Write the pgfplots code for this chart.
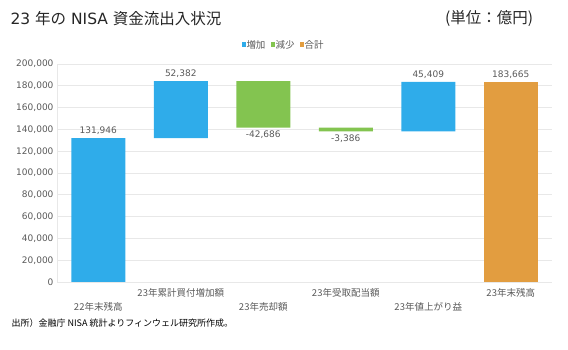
\documentclass[border=0pt]{standalone}
\usepackage{fontspec}
\setmainfont{DejaVu Sans}
\newfontfamily\jp{Noto Sans CJK JP}
\usepackage{pgfplots}
\pgfplotsset{compat=1.18}
\definecolor{bblue}{RGB}{47,172,234}
\definecolor{bgreen}{RGB}{131,196,80}
\definecolor{borange}{RGB}{226,157,64}
\definecolor{tgray}{RGB}{89,89,89}
\definecolor{ggray}{RGB}{232,232,232}
\begin{document}
\begin{tikzpicture}[x=1pt,y=1pt]
\useasboundingbox (0,0) rectangle (568,350);
\begin{axis}[
  at={(57pt,68pt)}, anchor=south west, scale only axis,
  width=495pt, height=218pt,
  ybar stacked, bar width=54pt,
  xmin=-0.5, xmax=5.5, ymin=0, ymax=200000,
  ytick={0,20000,...,200000},
  scaled y ticks=false,
  yticklabel style={/pgf/number format/fixed, /pgf/number format/1000 sep={,}, font=\fontsize{9}{10}\selectfont, text=tgray},
  /pgf/number format/assume math mode=true,
  ymajorgrids, grid style={ggray, line width=0.8pt},
  axis line style={ggray, line width=0.8pt},
  axis x line*=bottom, axis y line*=left,
  major tick length=0pt,
  xtick={1,3,5},
  xticklabels={{\jp 23年累計買付増加額},{\jp 23年受取配当額},{\jp 23年末残高}},
  xticklabel style={font=\fontsize{9.5}{10}\selectfont, text=tgray, yshift=-3pt},
  extra x ticks={0,2,4},
  extra x tick labels={{\jp 22年末残高},{\jp 23年売却額},{\jp 23年値上がり益}},
  extra x tick style={tick label style={yshift=-14pt}},
  legend columns=-1,
  legend style={at={(0.5,1)}, anchor=center, xshift=-21pt, yshift=19pt, draw=none, fill=none,
    font=\fontsize{9.5}{10}\selectfont\jp, text=tgray,
    /tikz/every even column/.append style={column sep=3pt},
    /tikz/every odd column/.append style={column sep=-1.5pt}},
]
\addplot[draw=none, fill=none, forget plot] coordinates {(0,0) (1,131946) (2,141642) (3,138256) (4,138256) (5,0)};
\addplot[draw=none, fill=bblue, legend image code/.code={\fill[bblue] (0pt,-2pt) rectangle (4.5pt,2.5pt);}]
  coordinates {(0,131946) (1,52382) (2,0) (3,0) (4,45409) (5,0)};
\addlegendentry{増加}
\addplot[draw=none, fill=bgreen, legend image code/.code={\fill[bgreen] (0pt,-2pt) rectangle (4.5pt,2.5pt);}]
  coordinates {(0,0) (1,0) (2,42686) (3,3386) (4,0) (5,0)};
\addlegendentry{減少}
\addplot[draw=none, fill=borange, legend image code/.code={\fill[borange] (0pt,-2pt) rectangle (4.5pt,2.5pt);}]
  coordinates {(0,0) (1,0) (2,0) (3,0) (4,0) (5,183665)};
\addlegendentry{合計}
\end{axis}
\begin{axis}[
  at={(57pt,68pt)}, anchor=south west, scale only axis,
  width=495pt, height=218pt,
  xmin=-0.5, xmax=5.5, ymin=0, ymax=200000,
  hide axis,
]
\addplot[draw=none, mark=none, nodes near coords, point meta=explicit symbolic,
  nodes near coords style={anchor=south, font=\fontsize{9}{10}\selectfont, text=tgray}]
  coordinates {(0,131946) [131{,}946] (1,184328) [52{,}382] (4,183665) [45{,}409] (5,183665) [183{,}665]};
\addplot[draw=none, mark=none, nodes near coords, point meta=explicit symbolic,
  nodes near coords style={anchor=north, font=\fontsize{9}{10}\selectfont, text=tgray}]
  coordinates {(2,141642) [-42{,}686] (3,138256) [-3{,}386]};
\end{axis}
\node[anchor=west, font=\fontsize{15.5}{18}\selectfont, text=black!85] at (7,331) {23 {\jp 年の} NISA {\jp 資金流出入状況}};
\node[anchor=west, font=\fontsize{15.5}{18}\selectfont\jp, text=black!85, inner sep=0pt] at (445,331) {(単位：億円)};
\node[anchor=west, font=\fontsize{9}{10}\selectfont\jp] at (8,27) {出所）金融庁 NISA 統計よりフィンウェル研究所作成。};
\end{tikzpicture}
\end{document}
